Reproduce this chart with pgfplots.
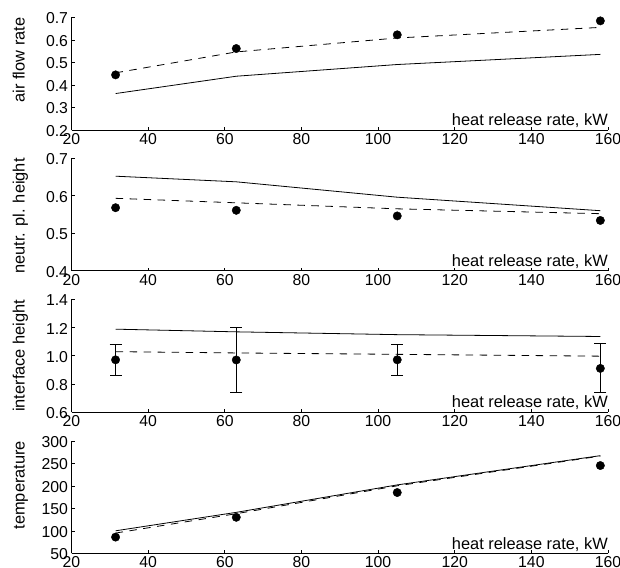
\documentclass[border=0pt]{standalone}
\usepackage{fontspec}
\setmainfont{Liberation Sans}
\usepackage{pgfplots}
\pgfplotsset{compat=1.18}
\pgfplotsset{
 myax/.style={
  scale only axis, width=536.5pt, height=112.5pt,
  xmin=20, xmax=160, xtick={20,40,...,160},
  axis x line=bottom, axis y line=left,
  axis line style={-, line width=0.9pt},
  tick align=inside, major tick length=3pt,
  tick style={black, line width=0.6pt},
  /pgf/number format/assume math mode=true,
  ticklabel style={font=\fontsize{15.8}{18}\selectfont},
  yticklabel style={yshift=-1pt},
  label style={font=\fontsize{16.4}{19}\selectfont},
  xlabel={heat release rate, kW},
  xlabel style={at={(axis description cs:1,0)}, anchor=base east, inner sep=0pt, yshift=4pt},
  ylabel style={at={(axis description cs:-0.0876,1)}, anchor=base east, inner sep=0pt},
  clip=false,
 },
 solidl/.style={black, line width=0.8pt, mark=none},
 dashl/.style={black, line width=0.8pt, mark=none, dash pattern=on 7.5pt off 6.5pt},
 pts/.style={only marks, mark=*, mark size=4.2pt, black, mark options={fill=black}},
}
\begin{document}
\begin{tikzpicture}
% Panel 1
\begin{axis}[myax, at={(71.5pt,437pt)}, anchor=south west,
  ymin=0.2, ymax=0.7, ytick={0.2,0.3,...,0.7},
  yticklabel style={/pgf/number format/.cd, fixed, fixed zerofill, precision=1},
  ylabel={air flow rate}]
\addplot[solidl] coordinates {(31.5,0.362) (63,0.439) (105,0.491) (158,0.536)};
\addplot[dashl] coordinates {(31.5,0.454) (63,0.547) (105,0.609) (158,0.656)};
\addplot[pts] coordinates {(31.5,0.445) (63,0.562) (105,0.623) (158,0.685)};
\end{axis}
% Panel 2
\begin{axis}[myax, at={(71.5pt,296.3pt)}, anchor=south west,
  ymin=0.4, ymax=0.7, ytick={0.4,0.5,0.6,0.7},
  yticklabel style={/pgf/number format/.cd, fixed, fixed zerofill, precision=1},
  ylabel={neutr. pl. height}]
\addplot[solidl] coordinates {(31.5,0.652) (63,0.637) (105,0.596) (158,0.560)};
\addplot[dashl] coordinates {(31.5,0.593) (63,0.581) (105,0.565) (158,0.552)};
\addplot[pts] coordinates {(31.5,0.568) (63,0.561) (105,0.546) (158,0.534)};
\end{axis}
% Panel 3
\begin{axis}[myax, at={(71.5pt,155pt)}, anchor=south west,
  ymin=0.6, ymax=1.4, ytick={0.6,0.8,1.0,1.2,1.4},
  yticklabel style={/pgf/number format/.cd, fixed, fixed zerofill, precision=1},
  ylabel={interface height}]
\addplot[solidl] coordinates {(31.5,1.189) (63,1.170) (105,1.150) (158,1.137)};
\addplot[dashl] coordinates {(31.5,1.029) (63,1.020) (105,1.010) (158,0.997)};
\addplot[pts, error bars/.cd, y dir=both, y explicit,
  error mark options={rotate=90, mark size=6pt, line width=0.8pt, black},
  error bar style={line width=0.8pt, black}]
  table[x=x, y=y, y error plus=ep, y error minus=em] {
x y ep em
31.5 0.971 0.113 0.113
63 0.970 0.235 0.231
105 0.971 0.113 0.113
158 0.910 0.175 0.171
};
\end{axis}
% Panel 4
\begin{axis}[myax, at={(71.5pt,13.7pt)}, anchor=south west,
  ymin=50, ymax=300, ytick={50,100,...,300},
  ylabel={temperature}]
\addplot[solidl] coordinates {(31.5,100) (63,141) (105,202) (158,267)};
\addplot[dashl] coordinates {(31.5,95) (63,138) (105,200) (158,266)};
\addplot[pts] coordinates {(31.5,86) (63,130) (105,185) (158,245)};
\end{axis}
\pgfresetboundingbox
\useasboundingbox (0,0) rectangle (620pt,567pt);
\end{tikzpicture}
\end{document}
